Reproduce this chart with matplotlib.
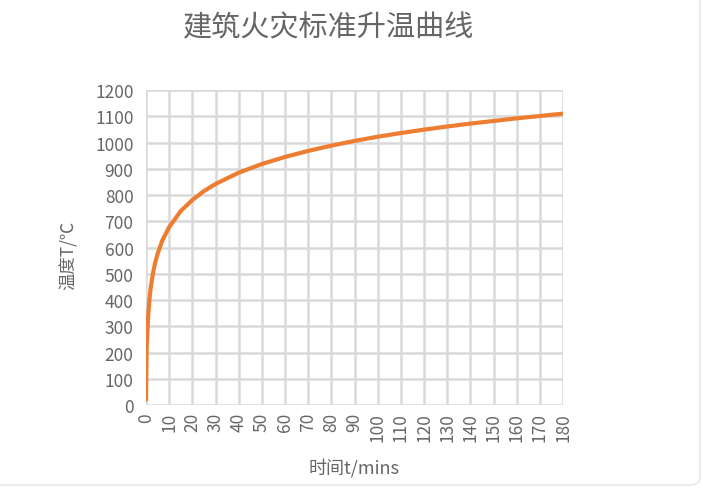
import numpy as np
import matplotlib
matplotlib.use("Agg")
import matplotlib.pyplot as plt
from matplotlib.patches import FancyBboxPatch

plt.rcParams['font.family'] = ['Noto Sans CJK SC', 'DejaVu Sans']

# time (min) and temperature (C)
t_min = [0, 0.25, 0.5, 1, 1.5, 2, 3, 4, 5, 7, 10, 15, 20, 25, 30, 40, 50, 60,
         70, 80, 90, 100, 110, 120, 130, 140, 150, 160, 170, 180]
temp_c = [20, 209, 261, 349, 404, 445, 502, 544, 576, 626, 678, 739, 781, 815,
          842, 885, 918, 945, 968, 988, 1006, 1022, 1036, 1049, 1061, 1072,
          1082, 1092, 1101, 1110]
x_ticks = list(range(0, 181, 10))
y_ticks = list(range(0, 1201, 100))

grey = '#666666'

fig = plt.figure(figsize=(7.03, 4.89), dpi=100)
ax = fig.add_axes([0.2077, 0.1697, 0.5932, 0.6442])

ax.plot(t_min, temp_c, color='#ED7D31', lw=3, solid_capstyle='round', zorder=3)

ax.set_xlim(0, 180)
ax.set_ylim(0, 1200)
ax.set_xticks(x_ticks)
ax.set_yticks(y_ticks)
ax.grid(True, color='#d9d9d9', lw=1.8)
ax.set_axisbelow(True)
for s in ax.spines.values():
    s.set_visible(False)
ax.tick_params(length=0, colors=grey, labelsize=12.5)
ax.tick_params(axis='x', labelrotation=90, pad=5)
ax.tick_params(axis='y', pad=9)

fig.text(0.467, 0.943, '建筑火灾标准升温曲线', ha='center', va='center',
         fontsize=21, color=grey)
fig.text(0.097, 0.478, '温度T/℃', rotation=90, ha='center', va='center',
         fontsize=12.5, color=grey)
fig.text(0.503, 0.043, '时间t/mins', ha='center', va='center',
         fontsize=13, color=grey)

# light frame round the picture
frame = FancyBboxPatch((-0.05, 0.006), 1.0457, 1.1, transform=fig.transFigure,
                       boxstyle='round,pad=0,rounding_size=0.015',
                       fc='none', ec='#e6e6e6', lw=1)
fig.patches.append(frame)

fig.savefig('out.png', dpi=100)
